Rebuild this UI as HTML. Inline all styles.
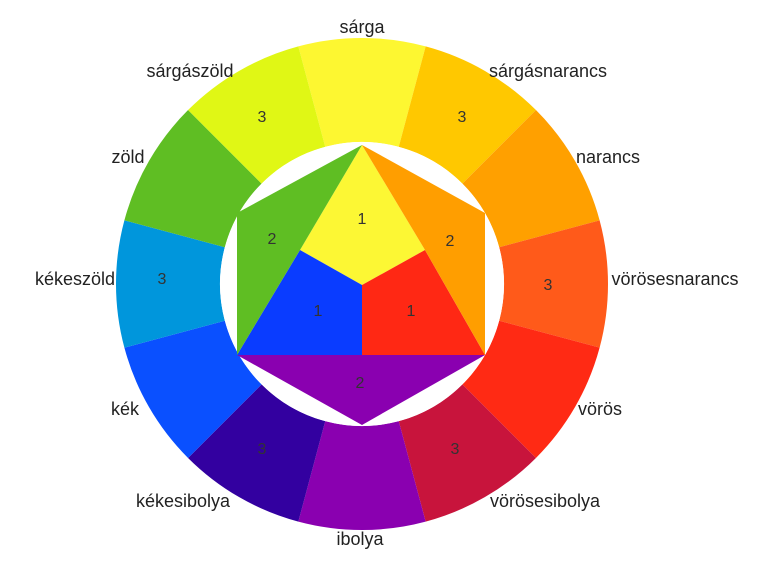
<!DOCTYPE html>
<html><head><meta charset="utf-8"><style>
html,body{margin:0;padding:0;background:#fff;}
svg{display:block;}
text{font-family:"Liberation Sans",sans-serif;font-size:18px;fill:#222;text-anchor:middle;dominant-baseline:middle;}
.n{font-size:16px;fill:#333;}
</style></head><body>
<svg width="763" height="572" viewBox="0 0 763 572" xmlns="http://www.w3.org/2000/svg">
<g id="ring"></g>
<circle cx="362" cy="284" r="142" fill="#fff"/>
<polygon points="362,145 300,250 362,285 425,250" fill="#FCF734"/>
<polygon points="300,250 362,285 362,355 237,355" fill="#0A3CFF"/>
<polygon points="425,250 485,355 362,355 362,285" fill="#FF2814"/>
<polygon points="362,145 237,213 237,355 300,250" fill="#5FBE23"/>
<polygon points="362,145 485,213 485,355 425,250" fill="#FF9E00"/>
<polygon points="237,355 485,355 362,425" fill="#8A00B0"/>
<text class="n" x="362" y="220">1</text>
<text class="n" x="318" y="312">1</text>
<text class="n" x="411" y="312">1</text>
<text class="n" x="272" y="240">2</text>
<text class="n" x="450" y="242">2</text>
<text class="n" x="360" y="384">2</text>
<text class="n" x="262" y="118">3</text>
<text class="n" x="462" y="118">3</text>
<text class="n" x="162" y="280">3</text>
<text class="n" x="548" y="286">3</text>
<text class="n" x="262" y="450">3</text>
<text class="n" x="455" y="450">3</text>
<text x="362" y="28">sárga</text>
<text x="190" y="72">sárgászöld</text>
<text x="548" y="72">sárgásnarancs</text>
<text x="128" y="158">zöld</text>
<text x="608" y="158">narancs</text>
<text x="75" y="280">kékeszöld</text>
<text x="675" y="280">vörösesnarancs</text>
<text x="125" y="410">kék</text>
<text x="600" y="410">vörös</text>
<text x="183" y="502">kékesibolya</text>
<text x="545" y="502">vörösesibolya</text>
<text x="360" y="540">ibolya</text>
</svg>
<script>
var cols=["#FDF731","#FFC800","#FFA000","#FF5A1A","#FF2A14","#C8143C","#8A00B0","#3300A0","#0A50FF","#0096DC","#5FBE23","#E0F715"];
var g=document.getElementById("ring"),cx=362,cy=284,R=246,r=142;
function p(a,rad){return (cx+rad*Math.cos(a)).toFixed(2)+","+(cy+rad*Math.sin(a)).toFixed(2);}
for(var i=0;i<12;i++){
 var a0=(-90-15+30*i)*Math.PI/180,a1=(-90+15+30*i)*Math.PI/180;
 var d="M"+p(a0,R)+" A"+R+","+R+" 0 0 1 "+p(a1,R)+" L"+p(a1,r)+" A"+r+","+r+" 0 0 0 "+p(a0,r)+"Z";
 var e=document.createElementNS("http://www.w3.org/2000/svg","path");
 e.setAttribute("d",d);e.setAttribute("fill",cols[i]);g.appendChild(e);
}
</script>
</body></html>
